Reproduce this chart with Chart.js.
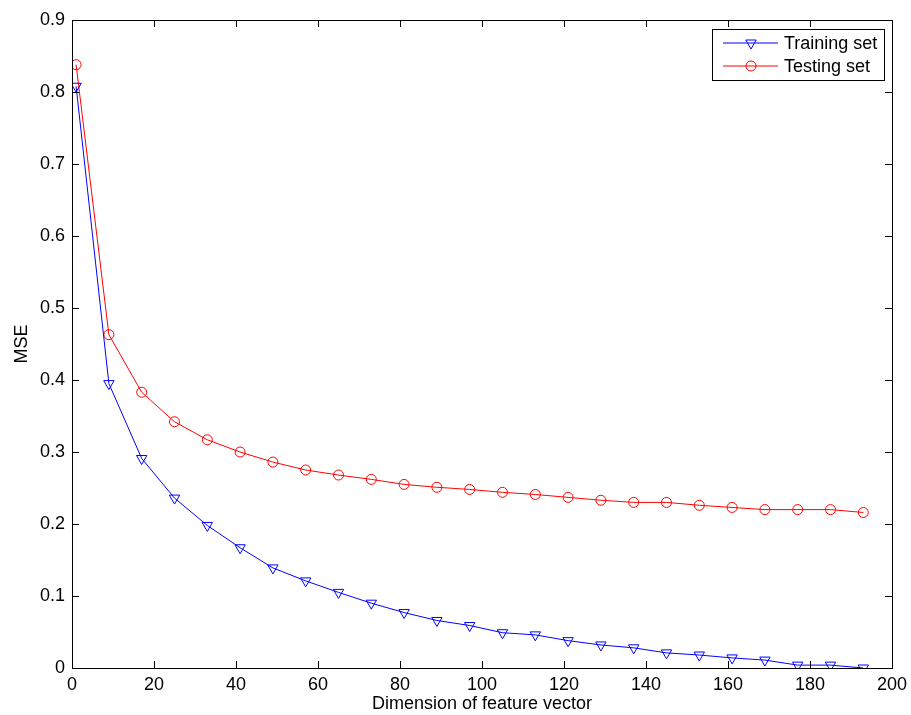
<!DOCTYPE html>
<html>
<head>
<meta charset="utf-8">
<script src="https://cdn.jsdelivr.net/npm/chart.js@4"></script>
<style>
  html, body { margin: 0; padding: 0; background: #fff; }
  #wrap { width: 911px; height: 715px; }
</style>
</head>
<body>
<div id="wrap"><canvas id="chart"></canvas></div>
<script>
// feature vector dimensions
var dims = [1, 9, 17, 25, 33, 41, 49, 57, 65, 73, 81, 89, 97, 105, 113, 121, 129, 137, 145, 153, 161, 169, 177, 185, 193];
var trainMSE = [0.808, 0.395, 0.291, 0.236, 0.198, 0.167, 0.139, 0.121, 0.105, 0.090, 0.077, 0.066, 0.059, 0.049, 0.046, 0.038, 0.032, 0.028, 0.021, 0.018, 0.014, 0.011, 0.004, 0.004, 0.000];
var testMSE = [0.838, 0.463, 0.383, 0.342, 0.317, 0.300, 0.286, 0.275, 0.268, 0.262, 0.255, 0.251, 0.248, 0.244, 0.241, 0.237, 0.233, 0.230, 0.230, 0.226, 0.223, 0.220, 0.220, 0.220, 0.216];
var xTicks = [0, 20, 40, 60, 80, 100, 120, 140, 160, 180, 200];
var yTicks = [0, 0.1, 0.2, 0.3, 0.4, 0.5, 0.6, 0.7, 0.8, 0.9];

var FONT = 'Liberation Sans, Arial, Helvetica, sans-serif';
var FSIZE = 18;

function toPoints(xs, ys){
  var out = [];
  for (var i = 0; i < xs.length; i++) out.push({x: xs[i], y: ys[i]});
  return out;
}

// box + inward ticks like matlab
var axesBox = {
  id: 'axesBox',
  afterDraw: function(chart){
    var c = chart.ctx, a = chart.chartArea;
    var sx = chart.scales.x, sy = chart.scales.y;
    var len = 7;
    c.save();
    c.strokeStyle = '#000';
    c.lineWidth = 1;
    c.beginPath();
    xTicks.forEach(function(v){
      var px = Math.round(sx.getPixelForValue(v)) + 0.5;
      c.moveTo(px, a.bottom); c.lineTo(px, a.bottom - len);
      c.moveTo(px, a.top); c.lineTo(px, a.top + len);
    });
    yTicks.forEach(function(v){
      var py = Math.round(sy.getPixelForValue(v)) + 0.5;
      c.moveTo(a.left, py); c.lineTo(a.left + len, py);
      c.moveTo(a.right, py); c.lineTo(a.right - len, py);
    });
    c.stroke();
    c.strokeRect(Math.round(a.left) + 0.5, Math.round(a.top) + 0.5, Math.round(a.right - a.left), Math.round(a.bottom - a.top));
    c.restore();
  }
};

// legend box in top right corner
var boxLegend = {
  id: 'boxLegend',
  afterDraw: function(chart){
    var c = chart.ctx, a = chart.chartArea;
    var w = 172, h = 51;
    var x0 = a.right - 8 - w, y0 = a.top + 9;
    c.save();
    c.fillStyle = '#fff';
    c.fillRect(x0, y0, w, h);
    c.strokeStyle = '#000';
    c.lineWidth = 1;
    c.strokeRect(Math.round(x0) + 0.5, Math.round(y0) + 0.5, w, h);
    chart.data.datasets.forEach(function(ds, i){
      var y = y0 + 14 + i * 23;
      c.strokeStyle = ds.borderColor;
      c.lineWidth = 1;
      c.beginPath();
      c.moveTo(x0 + 11, y); c.lineTo(x0 + 66, y);
      c.stroke();
      c.fillStyle = 'rgba(0,0,0,0)';
      Chart.helpers.drawPoint(c, {
        pointStyle: ds.pointStyle,
        rotation: ds.pointRotation || 0,
        radius: ds.pointRadius,
        borderWidth: 1
      }, x0 + 39, y);
      c.fillStyle = '#000';
      c.font = FSIZE + 'px ' + FONT;
      c.textBaseline = 'middle';
      c.fillText(ds.label, x0 + 72, y + 1);
    });
    c.restore();
  }
};

var ctx = document.getElementById('chart').getContext('2d');

var chart = new Chart(ctx, {
  type: 'scatter',
  data: {
    datasets: [
      {
        label: 'Training set',
        data: toPoints(dims, trainMSE),
        showLine: true,
        borderColor: '#0000ff',
        backgroundColor: 'rgba(0,0,0,0)',
        borderWidth: 1,
        pointStyle: 'triangle',
        pointRotation: 180,
        pointRadius: 6,
        pointBorderWidth: 1,
        pointBorderColor: '#0000ff',
        pointBackgroundColor: 'rgba(0,0,0,0)'
      },
      {
        label: 'Testing set',
        data: toPoints(dims, testMSE),
        showLine: true,
        borderColor: '#ff0000',
        backgroundColor: 'rgba(0,0,0,0)',
        borderWidth: 1,
        pointStyle: 'circle',
        pointRadius: 5,
        pointBorderWidth: 1,
        pointBorderColor: '#ff0000',
        pointBackgroundColor: 'rgba(0,0,0,0)'
      }
    ]
  },
  plugins: [axesBox, boxLegend],
  options: {
    responsive: true,
    maintainAspectRatio: false,
    animation: false,
    layout: {
      padding: { left: 0, right: 19, top: 20, bottom: 0 }
    },
    plugins: {
      legend: { display: false },
      tooltip: { enabled: false }
    },
    scales: {
      x: {
        type: 'linear',
        min: 0,
        max: 200,
        afterFit: function(s){ s.height = 47; s.paddingRight = 0; s.paddingLeft = 0; },
        afterBuildTicks: function(s){ s.ticks = xTicks.map(function(v){ return {value: v}; }); },
        grid: { display: false, drawTicks: false },
        border: { display: false },
        ticks: { color: '#000', padding: 6, font: { family: FONT, size: FSIZE } },
        title: {
          display: true,
          text: 'Dimension of feature vector',
          color: '#000',
          padding: 0,
          font: { family: FONT, size: FSIZE }
        }
      },
      y: {
        type: 'linear',
        min: 0,
        max: 0.9,
        afterFit: function(s){ s.width = 72; },
        afterBuildTicks: function(s){ s.ticks = yTicks.map(function(v){ return {value: v}; }); },
        grid: { display: false, drawTicks: false },
        border: { display: false },
        ticks: { color: '#000', padding: 7, font: { family: FONT, size: FSIZE } },
        title: {
          display: true,
          text: 'MSE',
          color: '#000',
          padding: { top: 11, bottom: 0 },
          font: { family: FONT, size: FSIZE }
        }
      }
    }
  }
});
</script>
</body>
</html>
